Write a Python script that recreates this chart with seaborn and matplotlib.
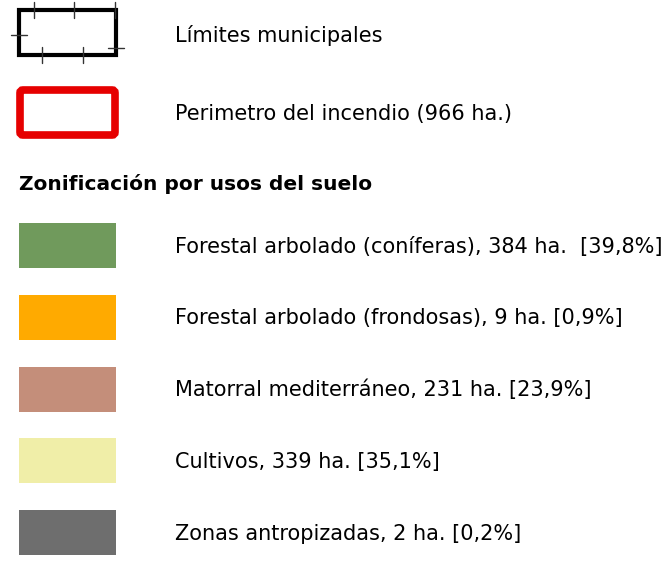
import matplotlib
matplotlib.use("Agg")
import matplotlib.pyplot as plt
import seaborn as sns
from matplotlib.patches import FancyBboxPatch, Rectangle

sns.set_theme(style="white")
plt.rcParams['font.family'] = ['DejaVu Sans']

line_labels = ["Límites municipales", "Perimetro del incendio (966 ha.)"]
heading = "Zonificación por usos del suelo"
categories = ["Forestal arbolado (coníferas)", "Forestal arbolado (frondosas)",
              "Matorral mediterráneo", "Cultivos", "Zonas antropizadas"]
hectares = [384, 9, 231, 339, 2]
percents = ["39,8%", "0,9%", "23,9%", "35,1%", "0,2%"]
colors = ["#709A5C", "#FFAA00", "#C48E7A", "#F0EEA8", "#6E6E6E"]

W, H = 668, 563
fig = plt.figure(figsize=(W / 100, H / 100), dpi=100)
ax = fig.add_axes([0, 0, 1, 1])
ax.set_xlim(0, W)
ax.set_ylim(H, 0)
ax.axis("off")

fs = 15
# Municipal limits symbol
ax.add_patch(Rectangle((19, 10), 97, 45, fill=False, lw=3, ec="black", joinstyle="miter"))
for x in [34, 74, 115]:
    ax.plot([x, x], [2, 18], color="#333333", lw=1)
for x in [42, 83]:
    ax.plot([x, x], [47, 63], color="#333333", lw=1)
ax.plot([11, 27], [35, 35], color="#333333", lw=1)
ax.plot([108, 124], [48, 48], color="#333333", lw=1)
ax.text(175, 42, line_labels[0], fontsize=fs, va="baseline", ha="left", color="black")

# Fire perimeter symbol
ax.add_patch(FancyBboxPatch((20, 90), 95, 45, boxstyle="round,pad=0,rounding_size=3",
                            fill=False, lw=5.5, ec="#E60000"))
ax.text(175, 120, line_labels[1], fontsize=fs, va="baseline", ha="left", color="black")

ax.text(19, 190, heading, fontsize=14.5, fontweight="bold", va="baseline", ha="left", color="black")

y0, step, h = 223, 71.8, 45
ys = [y0 + i * step for i in range(len(categories))]
ax.bar([19] * len(categories), [h] * len(categories), width=97, bottom=ys,
       align="edge", color=colors, edgecolor="none")
seps = ["  ", " ", " ", " ", " "]
for i, (c, ha_, p) in enumerate(zip(categories, hectares, percents)):
    ax.text(175, ys[i] + h / 2 + 7, f"{c}, {ha_} ha.{seps[i]}[{p}]", fontsize=fs,
            va="baseline", ha="left", color="black")

fig.savefig("out.png", dpi=100)
